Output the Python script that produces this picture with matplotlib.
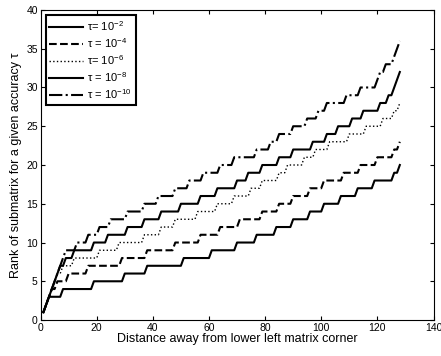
import numpy as np
import matplotlib
matplotlib.use("Agg")
import matplotlib.pyplot as plt

plt.rcParams['font.family'] = ['Liberation Sans', 'DejaVu Sans']
plt.rcParams['mathtext.fontset'] = 'custom'
plt.rcParams['mathtext.rm'] = 'Liberation Sans'
plt.rcParams['mathtext.it'] = 'Liberation Sans:italic'

# distance from the lower left corner (1..128)
distance = np.arange(1, 129)

# x positions where each rank (1, 2, 3, ...) is first reached
starts_tau2 = [1, 2, 3, 8, 19, 30, 38, 51, 61, 70, 77, 84, 90, 96, 101, 107,
               113, 119, 126, 128]
starts_tau4 = [1, 2, 3, 4, 6, 10, 17, 29, 38, 48, 57, 64, 71, 79, 85, 90, 96,
               101, 108, 114, 120, 126, 128]
starts_tau6 = [1, 2, 3, 4, 5, 6, 8, 12, 21, 28, 37, 43, 48, 56, 63, 69, 75, 79,
               85, 88, 94, 98, 103, 110, 116, 122, 126, 128]
starts_tau8 = [1, 2, 3, 4, 5, 6, 7, 9, 12, 19, 24, 31, 37, 43, 50, 57, 63, 70,
               74, 79, 85, 90, 97, 102, 106, 111, 115, 121, 124, 126, 127, 128]
starts_tau10 = [1, 2, 3, 4, 5, 6, 7, 8, 9, 13, 17, 21, 25, 31, 37, 42, 48, 53,
                58, 64, 69, 77, 82, 85, 90, 95, 99, 102, 109, 114, 120, 121,
                123, 126, 127, 128]

labels = [r'τ= 10$^{-2}$', r'τ = 10$^{-4}$', r'τ= 10$^{-6}$',
          r'τ = 10$^{-8}$', r'τ = 10$^{-10}$']


def rank_curve(starts):
    # rank at x = how many rank levels have started at or before x
    return np.searchsorted(np.array(starts), distance, side='right')


fig = plt.figure(figsize=(4.41, 3.56), dpi=100)
ax = fig.add_axes([0.092, 0.101, 0.891, 0.871])

ax.plot(distance, rank_curve(starts_tau2), '-', color='black', lw=1.5, label=labels[0])
ax.plot(distance, rank_curve(starts_tau4), '--', color='black', lw=1.5, label=labels[1])
ax.plot(distance, rank_curve(starts_tau6), ':', color='black', lw=1.0, label=labels[2])
ax.plot(distance, rank_curve(starts_tau8), '-', color='black', lw=1.5, label=labels[3])
ax.plot(distance, rank_curve(starts_tau10), '-.', color='black', lw=1.5, label=labels[4])

ax.set_xlim(0, 140)
ax.set_ylim(0, 40)
ax.set_xticks(range(0, 141, 20))
ax.set_yticks(range(0, 41, 5))
ax.tick_params(direction='in', top=True, right=True, labelsize=7.5, length=3, pad=2)
for s in ax.spines.values():
    s.set_linewidth(0.8)

ax.set_xlabel('Distance away from lower left matrix corner', fontsize=9, labelpad=0)
ax.set_ylabel('Rank of submatrix for a given accuracy τ', fontsize=9, labelpad=3)

leg = ax.legend(loc='upper left', fontsize=8, fancybox=False, framealpha=1,
                edgecolor='black', handlelength=3.0, borderaxespad=0.45,
                labelspacing=0.3, handletextpad=0.4, borderpad=0.35)
leg.get_frame().set_linewidth(1.5)

fig.savefig('out.png', dpi=100)
